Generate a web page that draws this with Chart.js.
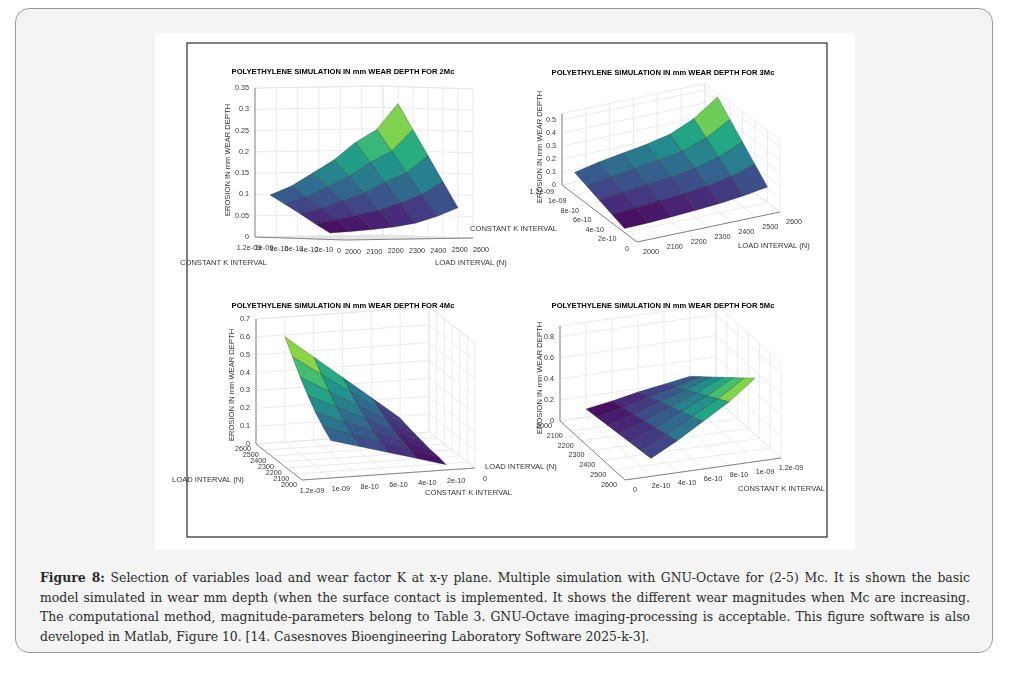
<!DOCTYPE html>
<html>
<head>
<meta charset="utf-8">
<script src="https://cdn.jsdelivr.net/npm/chart.js@4.4.1/dist/chart.umd.min.js"></script>
<style>
  body { margin: 0; background: #fff; width: 1033px; height: 682px; position: relative; }
  #panel { position: absolute; left: 15px; top: 8px; width: 976px; height: 643px; border: 1px solid #9a9a9a; border-radius: 14px; background: #f4f4f4; }
  #fig { position: absolute; left: 155px; top: 33px; width: 700px; height: 517px; background: #fff; }
  #caption { position: absolute; left: 40px; top: 568px; width: 930px; font-family: "DejaVu Serif", serif; font-size: 12.4px; line-height: 19.5px; color: #2a2a2a; text-align: justify; }
</style>
</head>
<body>
<div id="panel"></div>
<div id="fig"><canvas id="c" width="700" height="517"></canvas></div>
<div id="caption"><b>Figure 8:</b> Selection of variables load and wear factor K at x-y plane. Multiple simulation with GNU-Octave for (2-5) Mc. It is shown the basic model simulated in wear mm depth (when the surface contact is implemented. It shows the different wear magnitudes when Mc are increasing. The computational method, magnitude-parameters belong to Table 3. GNU-Octave imaging-processing is acceptable. This figure software is also developed in Matlab, Figure 10. [14. Casesnoves Bioengineering Laboratory Software 2025-k-3].</div>
<script>
// surface grid: rows = K values, columns = load values
const loadValues = [2000, 2100, 2200, 2300, 2400, 2500, 2600];
const kValues = [2e-10, 4e-10, 6e-10, 8e-10, 1e-9];

const wear2Mc = [
  [0.015, 0.018, 0.022, 0.027, 0.035, 0.050, 0.070],
  [0.036, 0.044, 0.054, 0.065, 0.081, 0.100, 0.130],
  [0.058, 0.069, 0.086, 0.104, 0.128, 0.150, 0.190],
  [0.079, 0.095, 0.118, 0.142, 0.174, 0.200, 0.250],
  [0.100, 0.120, 0.150, 0.180, 0.220, 0.250, 0.310]
];
const wear3Mc = [
  [0.030, 0.035, 0.045, 0.055, 0.070, 0.090, 0.120],
  [0.065, 0.079, 0.094, 0.109, 0.130, 0.165, 0.220],
  [0.100, 0.123, 0.143, 0.163, 0.190, 0.240, 0.320],
  [0.135, 0.166, 0.191, 0.216, 0.250, 0.315, 0.420],
  [0.170, 0.210, 0.240, 0.270, 0.310, 0.390, 0.520]
];
const wear4Mc = [
  [0.030, 0.040, 0.045, 0.055, 0.065, 0.075, 0.090],
  [0.075, 0.093, 0.109, 0.131, 0.156, 0.184, 0.215],
  [0.120, 0.145, 0.173, 0.208, 0.248, 0.293, 0.340],
  [0.165, 0.198, 0.236, 0.284, 0.339, 0.401, 0.465],
  [0.210, 0.250, 0.300, 0.360, 0.430, 0.510, 0.590]
];
const wear5Mc = [
  [0.080, 0.095, 0.110, 0.125, 0.140, 0.155, 0.170],
  [0.120, 0.150, 0.180, 0.210, 0.240, 0.270, 0.300],
  [0.170, 0.217, 0.263, 0.310, 0.357, 0.403, 0.450],
  [0.210, 0.275, 0.340, 0.405, 0.470, 0.535, 0.600],
  [0.250, 0.340, 0.430, 0.520, 0.610, 0.700, 0.790]
];

const loadTicks = [2000, 2100, 2200, 2300, 2400, 2500, 2600];
const kTicks = [0, 2e-10, 4e-10, 6e-10, 8e-10, 1e-9, 1.2e-9];
const kTickLabels = ['0', '2e-10', '4e-10', '6e-10', '8e-10', '1e-09', '1.2e-09'];
const zTicks2 = [0, 0.05, 0.1, 0.15, 0.2, 0.25, 0.3, 0.35];
const zTicks3 = [0, 0.1, 0.2, 0.3, 0.4, 0.5];
const zTicks4 = [0, 0.1, 0.2, 0.3, 0.4, 0.5, 0.6, 0.7];
const zTicks5 = [0, 0.2, 0.4, 0.6, 0.8];
const titles = ['2Mc', '3Mc', '4Mc', '5Mc'];

// view of each axes box (page pixels): origin = (load 2000, K 0, z 0)
const plots = [
  { z: wear2Mc, zt: zTicks2, zmax: 0.35, O: [345, 240], EX: [128, -2], EY: [-90, -3], H: 149,
    backL: 2600, backK: 1.2e-9, zCorner: [2000, 1.2e-9], title: [343, 72],
    kEdge: 2000, kOff: [-6, 11], kAlign: 'center', lEdge: 0, lOff: [8, 12], lAlign: 'center',
    zLab: [228, 160], kLab: [180, 263], lLab: [435, 263] },
  { z: wear3Mc, zt: zTicks3, zmax: 0.55, O: [637, 242], EX: [143, -30], EY: [-75, -57], H: 71.5,
    backL: 2600, backK: 1.2e-9, zCorner: [2000, 1.2e-9], title: [663, 73],
    kEdge: 2000, kOff: [-8, 7], kAlign: 'right', lEdge: 0, lOff: [14, 10], lAlign: 'center',
    zLab: [540, 147], kLab: [470, 229], lLab: [738, 246] },
  { z: wear4Mc, zt: zTicks4, zmax: 0.7, O: [475, 468], EX: [-46, -36], EY: [-173, 12], H: 125,
    backL: 2600, backK: 0, zCorner: [2600, 1.2e-9], title: [343, 306],
    kEdge: 2000, kOff: [10, 11], kAlign: 'center', lEdge: 1.2e-9, lOff: [-5, 5], lAlign: 'right',
    zLab: [232, 385], kLab: [425, 493], lLab: [172, 480] },
  { z: wear5Mc, zt: zTicks5, zmax: 0.9, O: [560, 421], EX: [65, 59], EY: [156, -22], H: 95,
    backL: 2000, backK: 1.2e-9, zCorner: [2000, 0], title: [663, 306],
    kEdge: 2600, kOff: [10, 10], kAlign: 'center', lEdge: 0, lOff: [-8, 5], lAlign: 'right',
    zLab: [540, 378], kLab: [738, 489], lLab: [485, 467] }
];

function proj(p, L, K, z) {
  const u = (L - 2000) / 600, v = K / 1.2e-9, w = z / p.zmax;
  return { x: p.O[0] + u * p.EX[0] + v * p.EY[0], y: p.O[1] + u * p.EX[1] + v * p.EY[1] - w * p.H };
}

const viridis = ['#440154', '#482475', '#414487', '#355f8d', '#2a788e', '#21918c', '#22a884', '#44bf70', '#7ad151', '#bddf26', '#fde725'];
function hex(c) { return [parseInt(c.slice(1, 3), 16), parseInt(c.slice(3, 5), 16), parseInt(c.slice(5, 7), 16)]; }
function colorAt(t) {
  t = Math.max(0, Math.min(1, t)) * 10;
  const i = Math.min(9, Math.floor(t)), f = t - i;
  const a = hex(viridis[i]), b = hex(viridis[i + 1]);
  return 'rgb(' + a.map((v, n) => Math.round(v + (b[n] - v) * f)).join(',') + ')';
}

const datasets = [];
plots.forEach(p => {
  const all = p.z.flat();
  const lo = Math.min(...all), hi = Math.max(...all);
  const quads = [];
  for (let i = 0; i < kValues.length - 1; i++) {
    for (let j = 0; j < loadValues.length - 1; j++) {
      const c = [[i, j], [i, j + 1], [i + 1, j + 1], [i + 1, j]];
      const pts = c.map(([a, b]) => proj(p, loadValues[b], kValues[a], p.z[a][b]));
      pts.push(pts[0]);
      const avg = c.reduce((s, [a, b]) => s + p.z[a][b], 0) / 4;
      const floor = proj(p, (loadValues[j] + loadValues[j + 1]) / 2, (kValues[i] + kValues[i + 1]) / 2, 0);
      quads.push({ pts, col: colorAt((avg - lo) / (hi - lo)), depth: floor.y });
    }
  }
  quads.sort((a, b) => b.depth - a.depth); // nearest first: index 0 is drawn last
  quads.forEach(q => datasets.push({
    data: q.pts, showLine: true, fill: 'shape', backgroundColor: q.col,
    borderColor: 'rgba(20,20,20,0.45)', borderWidth: 0.6, pointRadius: 0, tension: 0
  }));
});

function line(ctx, a, b) { ctx.beginPath(); ctx.moveTo(a.x, a.y); ctx.lineTo(b.x, b.y); ctx.stroke(); }

const boxPlugin = {
  id: 'box3d',
  beforeDatasetsDraw(chart) {
    const ctx = chart.ctx, xs = chart.scales.x, ys = chart.scales.y;
    const px = q => ({ x: xs.getPixelForValue(q.x), y: ys.getPixelForValue(q.y) });
    ctx.save();
    ctx.strokeStyle = '#000'; ctx.lineWidth = 1;
    const f1 = px({ x: 187, y: 43 }), f2 = px({ x: 827, y: 537 });
    ctx.strokeRect(f1.x, f1.y, f2.x - f1.x, f2.y - f1.y);
    plots.forEach(p => {
      const P = (L, K, z) => px(proj(p, L, K, z));
      const top = p.zmax;
      ctx.strokeStyle = '#e2e2e2'; ctx.lineWidth = 0.7;
      loadTicks.forEach(L => {
        line(ctx, P(L, 0, 0), P(L, 1.2e-9, 0));
        line(ctx, P(L, p.backK, 0), P(L, p.backK, top));
      });
      kTicks.forEach(K => {
        line(ctx, P(2000, K, 0), P(2600, K, 0));
        line(ctx, P(p.backL, K, 0), P(p.backL, K, top));
      });
      p.zt.forEach(z => {
        line(ctx, P(2000, p.backK, z), P(2600, p.backK, z));
        line(ctx, P(p.backL, 0, z), P(p.backL, 1.2e-9, z));
      });
      line(ctx, P(2000, p.backK, top), P(2600, p.backK, top));
      line(ctx, P(p.backL, 0, top), P(p.backL, 1.2e-9, top));
      ctx.strokeStyle = '#6a6a6a'; ctx.lineWidth = 0.8;
      line(ctx, P(p.kEdge, 0, 0), P(p.kEdge, 1.2e-9, 0));
      line(ctx, P(2000, p.lEdge, 0), P(2600, p.lEdge, 0));
      line(ctx, P(p.zCorner[0], p.zCorner[1], 0), P(p.zCorner[0], p.zCorner[1], top));
    });
    ctx.restore();
  },
  afterDraw(chart) {
    const ctx = chart.ctx, xs = chart.scales.x, ys = chart.scales.y;
    const px = q => ({ x: xs.getPixelForValue(q.x), y: ys.getPixelForValue(q.y) });
    ctx.save();
    ctx.textBaseline = 'middle';
    plots.forEach((p, n) => {
      const P = (L, K, z) => px(proj(p, L, K, z));
      ctx.fillStyle = '#000';
      ctx.font = 'bold 7.6px "Liberation Sans", Arial';
      ctx.textAlign = 'center';
      const t = px({ x: p.title[0], y: p.title[1] });
      ctx.fillText('POLYETHYLENE SIMULATION IN mm WEAR DEPTH FOR ' + titles[n], t.x, t.y);
      ctx.fillStyle = '#333';
      ctx.font = '7.2px "Liberation Sans", Arial';
      ctx.textAlign = 'right';
      p.zt.forEach(z => {
        const q = P(p.zCorner[0], p.zCorner[1], z);
        ctx.fillText(String(z), q.x - 6, q.y);
      });
      ctx.textAlign = p.kAlign;
      kTicks.forEach((K, i) => {
        const q = P(p.kEdge, K, 0);
        ctx.fillText(kTickLabels[i], q.x + p.kOff[0], q.y + p.kOff[1]);
      });
      ctx.textAlign = p.lAlign;
      loadTicks.forEach(L => {
        const q = P(L, p.lEdge, 0);
        ctx.fillText(String(L), q.x + p.lOff[0], q.y + p.lOff[1]);
      });
      ctx.font = '7.6px "Liberation Sans", Arial';
      ctx.textAlign = 'left';
      const k = px({ x: p.kLab[0], y: p.kLab[1] }), l = px({ x: p.lLab[0], y: p.lLab[1] });
      ctx.fillText('CONSTANT K INTERVAL', k.x, k.y);
      ctx.fillText('LOAD INTERVAL (N)', l.x, l.y);
      const zl = px({ x: p.zLab[0], y: p.zLab[1] });
      ctx.save();
      ctx.translate(zl.x, zl.y); ctx.rotate(-Math.PI / 2);
      ctx.textAlign = 'center';
      ctx.fillText('EROSION IN mm WEAR DEPTH', 0, 0);
      ctx.restore();
    });
    ctx.restore();
  }
};

new Chart(document.getElementById('c'), {
  type: 'scatter',
  data: { datasets },
  options: {
    responsive: false, animation: false, events: [],
    layout: { padding: 0 },
    plugins: { legend: { display: false }, tooltip: { enabled: false } },
    scales: {
      x: { type: 'linear', min: 155, max: 855, display: false },
      y: { type: 'linear', min: 33, max: 550, reverse: true, display: false }
    }
  },
  plugins: [boxPlugin]
});
</script>
</body>
</html>
